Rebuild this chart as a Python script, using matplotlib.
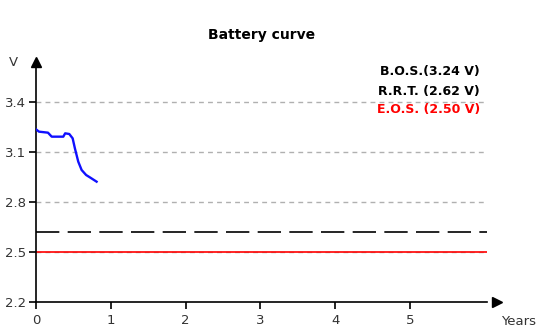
import matplotlib
matplotlib.use("Agg")
import matplotlib.pyplot as plt

# measured battery voltage over the first months
years = [0.0, 0.04, 0.16, 0.21, 0.365, 0.39, 0.445, 0.49, 0.52, 0.565, 0.61, 0.67, 0.72, 0.81]
volts = [3.236, 3.222, 3.216, 3.192, 3.192, 3.212, 3.208, 3.182, 3.122, 3.042, 2.992, 2.962, 2.948, 2.922]

bos = 3.24
rrt = 2.62
eos = 2.50

y_ticks = [2.2, 2.5, 2.8, 3.1, 3.4]
x_ticks = [0, 1, 2, 3, 4, 5]

plt.rcParams['font.family'] = ['DejaVu Sans']

fig = plt.figure(figsize=(5.37, 3.29), dpi=100)
ax = fig.add_axes([36 / 537, 1 - 302 / 329, (487 - 36) / 537, (302 - 62) / 329])
x_max = 6.03
ax.set_xlim(0, x_max)
ax.set_ylim(2.2, 3.64)

for spine in ['top', 'right']:
    ax.spines[spine].set_visible(False)
ax.spines['left'].set_linewidth(1.2)
ax.spines['bottom'].set_linewidth(1.2)

# grid lines
for v in y_ticks[1:]:
    ax.plot([0, x_max], [v, v], color='#b0b0b0', linestyle=(0, (3.5, 3)), linewidth=1, zorder=1)

ax.plot([0, x_max], [rrt, rrt], color='black', linestyle=(0, (14, 5)), linewidth=1.2, zorder=2)
ax.plot([0, x_max], [eos, eos], color='red', linewidth=1.2, zorder=2)
ax.plot(years, volts, color='#1010ff', linewidth=1.7, zorder=3)

# arrow heads on the axes
ax.plot(1.023, 0, marker='>', color='black', markersize=7, transform=ax.transAxes, clip_on=False)
ax.plot(0, 1.0, marker='^', color='black', markersize=7, transform=ax.transAxes, clip_on=False)

ax.set_yticks(y_ticks)
ax.set_yticklabels([f"{t:.1f}" for t in y_ticks])
ax.set_xticks(x_ticks)
ax.tick_params(axis='both', labelsize=9.5, labelcolor='#333333', length=5, width=1.2)
ax.tick_params(axis='y', pad=2)

ax.text(-0.05, 1.0, 'V', transform=ax.transAxes, fontsize=9.5, color='#333333', ha='center', va='center')
ax.text(1.07, -0.083, 'Years', transform=ax.transAxes, fontsize=9.5, color='#333333', ha='center', va='center')

fig.text(262 / 537, 1 - 35 / 329, 'Battery curve', fontsize=10, fontweight='bold', ha='center', va='center')

legend_items = [(f"B.O.S.({bos:.2f} V)", 'black', 72),
                (f"R.R.T. ({rrt:.2f} V)", 'black', 91),
                (f"E.O.S. ({eos:.2f} V)", 'red', 110)]
for label, color, ypx in legend_items:
    fig.text(480 / 537, 1 - ypx / 329, label, fontsize=9, fontweight='bold', color=color, ha='right', va='center')

fig.savefig('out.png', dpi=100)
